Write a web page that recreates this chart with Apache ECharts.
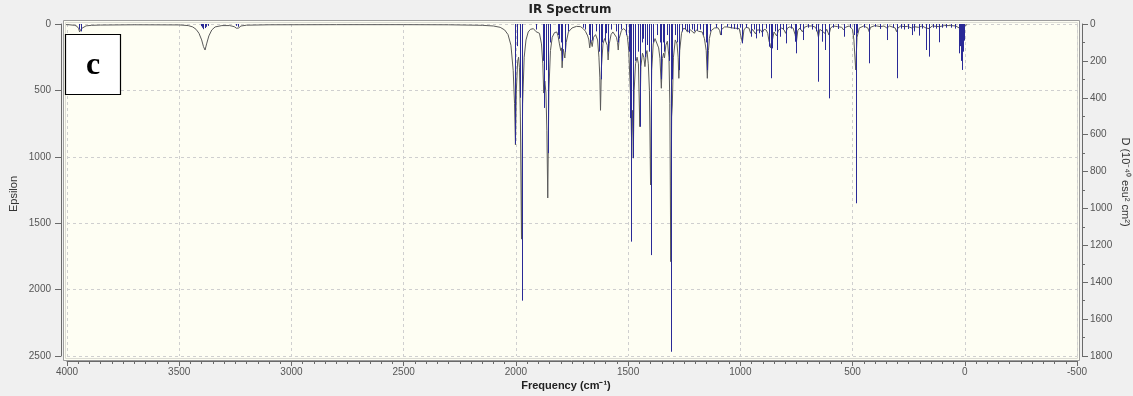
<!DOCTYPE html>
<html><head><meta charset="utf-8">
<script src="https://cdn.jsdelivr.net/npm/echarts@6/dist/echarts.min.js"></script>
<style>html,body{margin:0;padding:0;background:#f0f0f0}#chart{width:1133px;height:396px}</style>
</head><body><div id="chart"></div>
<script>
// ---- Data ----
const chartTitle = 'IR Spectrum';
const xName = 'Frequency (cm\u207B\u00B9)';
const yLeftName = 'Epsilon';
const yRightName = 'D (10\u207B\u2074\u2070 esu\u00B2 cm\u00B2)';
const panelLabel = 'c';

// Broadened spectrum (frequency cm-1, epsilon)
const curveHigh = [[4010,4],[3990,6],[3965,10],[3955,18],[3948,35],[3944,60],[3942,72],[3940,55],[3936,35],[3928,20],[3915,14],[3890,10],[3850,8],[3700,6],[3500,7],[3460,12],[3440,22],[3425,40],[3412,70],[3400,120],[3392,170],[3385,196],[3378,150],[3368,90],[3355,45],[3340,22],[3310,12],[3275,12],[3255,20],[3245,32],[3240,45],[3235,30],[3225,15],[3200,9],[3100,6],[2800,5],[2500,5],[2300,6]];
const curveMid = [[2150,10],[2100,15],[2070,25],[2050,45],[2035,80],[2022,160],[2012,350],[2006,600],[2002,910],[1998,500],[1992,280],[1988,250],[1984,330],[1980,700],[1975,1620],[1970,600],[1963,250],[1955,120],[1945,60],[1935,40],[1922,35],[1914,50],[1910,58],[1904,45],[1895,70],[1886,150],[1880,300],[1876,520],[1871,430],[1866,520],[1862,800],[1858,1310],[1853,500],[1846,200],[1838,100],[1828,65],[1818,60],[1812,90],[1806,150],[1800,200],[1797,180],[1794,330],[1789,190],[1782,256],[1776,140],[1766,60],[1750,30],[1730,18],[1712,20],[1700,35],[1690,55],[1680,90],[1675,120],[1671,180],[1666,120],[1660,170],[1654,100],[1645,80],[1636,120],[1630,250],[1626,400],[1623,650],[1619,330],[1612,150],[1605,110],[1598,120],[1593,160],[1589,271],[1584,150],[1576,80],[1568,60],[1560,70],[1552,100],[1547,140],[1544,196],[1540,110],[1530,50],[1520,35],[1510,50],[1503,100],[1497,200],[1492,420],[1488,600],[1485,848],[1481,650],[1477,1010],[1473,500],[1467,300],[1460,250],[1454,300],[1448,773],[1443,320],[1436,220],[1430,250],[1425,321],[1420,230],[1416,200],[1410,300],[1405,500],[1400,1212],[1395,350],[1388,150],[1380,110],[1372,120],[1364,180],[1358,260],[1352,484],[1347,260],[1342,220],[1338,256],[1332,160],[1325,130],[1318,250],[1314,600],[1310,1790],[1306,700],[1303,610],[1298,250],[1290,120],[1282,150],[1277,250],[1274,409],[1270,200],[1262,70],[1255,35],[1245,35],[1236,60],[1230,70],[1222,45],[1214,55],[1205,70],[1196,45],[1186,55],[1178,50],[1170,60],[1160,110],[1152,200],[1147,409],[1142,200]];
const curveLow = [[1138,110],[1130,50],[1115,30],[1100,28],[1092,50],[1088,83],[1083,40],[1070,22],[1060,22],[1050,25],[1043,35],[1036,30],[1028,40],[1020,32],[1013,45],[1005,35],[998,50],[991,140],[984,45],[975,25],[962,30],[954,70],[946,40],[940,45],[932,75],[925,45],[917,55],[910,45],[902,65],[894,40],[885,45],[878,70],[872,130],[868,150],[865,180],[861,140],[857,120],[850,60],[845,55],[838,90],[830,45],[823,55],[815,30],[805,45],[798,70],[790,30],[780,22],[765,30],[756,80],[750,133],[744,50],[735,30],[728,45],[723,60],[715,25],[700,15],[680,15],[665,25],[658,50],[652,100],[646,40],[638,40],[634,55],[628,45],[624,70],[615,40],[610,55],[605,83],[598,30],[585,15],[567,20],[548,25],[540,45],[532,25],[515,15],[500,40],[494,120],[486,346],[480,100],[470,30],[450,15],[432,30],[426,58],[420,25],[400,12],[377,20],[360,15],[347,30],[335,15],[310,30],[304,58],[298,30],[285,15],[270,20],[255,18],[236,30],[225,20],[206,25],[190,15],[173,30],[166,25],[159,35],[145,15],[114,20],[90,12],[62,12],[40,15],[25,30],[17,45],[12,40],[5,20],[-5,8],[-10,5]];

// Stick intensities (frequency cm-1, D in 1e-40 esu^2 cm^2)
const sticksHigh = [[3946,30],[3938,40],[3405,12],[3398,20],[3392,28],[3387,22],[3380,15],[3372,10],[3245,10],[3238,15]];
const sticksMid = [[2002,650],[1995,120],[1980,400],[1975,1500],[1910,30],[1880,200],[1876,455],[1866,250],[1858,700],[1850,100],[1812,60],[1806,80],[1800,100],[1794,200],[1782,150],[1770,40],[1700,20],[1690,30],[1676,60],[1671,100],[1660,90],[1645,40],[1630,150],[1623,300],[1616,100],[1605,90],[1597,50],[1589,150],[1575,30],[1556,40],[1544,100],[1530,30],[1508,60],[1498,150],[1492,510],[1485,1180],[1477,727],[1468,200],[1455,150],[1448,557],[1440,100],[1432,80],[1425,180],[1418,114],[1408,150],[1400,1253],[1390,100],[1372,60],[1360,100],[1352,300],[1345,100],[1338,150],[1328,60],[1318,200],[1310,1777],[1303,300],[1290,60],[1280,100],[1274,250],[1262,40],[1248,30],[1236,40],[1228,50],[1215,30],[1205,40],[1192,35],[1180,30],[1165,60],[1155,100],[1147,250]];
const sticksLow = [[1135,40],[1110,20],[1088,60],[1060,15],[1043,23],[1028,27],[1013,30],[1000,20],[991,105],[975,20],[954,69],[940,30],[932,78],[917,50],[902,69],[885,25],[872,123],[865,294],[857,132],[845,40],[838,141],[823,69],[810,30],[798,105],[775,25],[756,96],[750,159],[735,30],[723,87],[700,20],[680,30],[665,40],[652,313],[634,96],[624,141],[605,403],[585,20],[567,27],[540,69],[511,20],[495,60],[486,972],[478,50],[450,20],[426,213],[400,15],[377,27],[347,87],[320,20],[304,294],[285,25],[270,30],[255,27],[236,60],[225,40],[206,63],[190,25],[173,141],[159,177],[140,20],[130,25],[114,99],[100,20],[84,20],[62,20],[45,25],[25,159],[21,120],[17,200],[14,249],[8,150],[4,90]];

const xMin = -500, xMax = 4000, xStep = 500;
const epsMax = 2500, epsStep = 500;
const dMax = 1800, dStep = 200;

// ---- Chart ----
const curveData = curveHigh.concat(curveMid, curveLow);
const stickData = sticksHigh.concat(sticksMid, sticksLow);

const axisColor = '#6a6a6a';
const plainNum = function (v) { return String(v); };
const labelStyle = { color: '#555', fontSize: 10, fontFamily: '"Liberation Sans", Arial, sans-serif', formatter: plainNum };
const gridLine = { show: true, lineStyle: { color: '#cfcfcf', type: [3, 3], width: 1 } };

const chart = echarts.init(document.getElementById('chart'), null, { renderer: 'canvas' });
chart.setOption({
  animation: false,
  backgroundColor: '#f0f0f0',
  grid: { left: 67, right: 56, top: 24, bottom: 40, containLabel: false, outerBoundsMode: 'none' },
  xAxis: {
    type: 'value', min: xMin, max: xMax, interval: xStep, inverse: true, offset: 5,
    axisLine: { show: true, onZero: false, lineStyle: { color: axisColor } },
    axisTick: { show: true, length: 5, lineStyle: { color: axisColor } },
    minorTick: { show: true, splitNumber: 10, length: 3, lineStyle: { color: axisColor } },
    axisLabel: Object.assign({ margin: 6 }, labelStyle),
    splitLine: gridLine, minorSplitLine: { show: false }
  },
  yAxis: [{
    type: 'value', position: 'left', min: 0, max: epsMax, interval: epsStep, inverse: true, offset: 6,
    axisLine: { show: true, onZero: false, lineStyle: { color: axisColor } },
    axisTick: { show: true, length: 6, lineStyle: { color: axisColor } },
    axisLabel: Object.assign({ margin: 10 }, labelStyle),
    splitLine: gridLine
  }, {
    type: 'value', position: 'right', min: 0, max: dMax, interval: dStep, inverse: true, offset: 5,
    axisLine: { show: true, onZero: false, lineStyle: { color: axisColor } },
    axisTick: { show: true, length: 6, lineStyle: { color: axisColor } },
    minorTick: { show: true, splitNumber: 2, length: 3, lineStyle: { color: axisColor } },
    axisLabel: Object.assign({ margin: 8 }, labelStyle),
    splitLine: { show: false }
  }],
  graphic: [
    { type: 'rect', z: -10, silent: true, shape: { x: 63.5, y: 20.5, width: 1016, height: 340 },
      style: { fill: '#fefef3', stroke: '#9c9c9c', lineWidth: 1 } },
    { type: 'rect', z: -9, silent: true, shape: { x: 65.5, y: 22.5, width: 1012, height: 336 },
      style: { fill: 'none', stroke: '#dcdcd4', lineWidth: 1 } },
    { type: 'text', z: 10, x: 570, y: 10, style: { text: chartTitle, font: 'bold 12px "DejaVu Sans", sans-serif', fill: '#222', align: 'center', verticalAlign: 'middle' } },
    { type: 'text', z: 10, x: 566, y: 386, style: { text: xName, font: 'bold 11px "Liberation Sans", Arial, sans-serif', fill: '#222', align: 'center', verticalAlign: 'middle' } },
    { type: 'text', z: 10, x: 13.5, y: 194, rotation: Math.PI / 2, style: { text: yLeftName, font: '11px "Liberation Sans", Arial, sans-serif', fill: '#333', align: 'center', verticalAlign: 'middle' } },
    { type: 'text', z: 10, x: 1125, y: 182, rotation: -Math.PI / 2, style: { text: yRightName, font: '11px "Liberation Sans", Arial, sans-serif', fill: '#333', align: 'center', verticalAlign: 'middle' } },
    { type: 'rect', z: 20, shape: { x: 65.5, y: 34.5, width: 55, height: 60 }, style: { fill: '#fff', stroke: '#000', lineWidth: 1.2 } },
    { type: 'text', z: 21, x: 93, y: 66, style: { text: panelLabel, font: 'bold 32px "Liberation Serif", "DejaVu Serif", serif', fill: '#000', align: 'center', verticalAlign: 'middle' } }
  ],
  series: [{
    type: 'line', xAxisIndex: 0, yAxisIndex: 0, data: curveData, showSymbol: false, symbol: 'none',
    silent: true, z: 3, sampling: null, lineStyle: { color: '#5a5a5a', width: 1 }
  }, {
    type: 'custom', xAxisIndex: 0, yAxisIndex: 1, data: stickData, silent: true, z: 4,
    renderItem: function (params, api) {
      const f = api.value(0), d = api.value(1);
      const p0 = api.coord([f, 0]);
      const p1 = api.coord([f, d]);
      const x = Math.round(p0[0]) + 0.5;
      return { type: 'line', shape: { x1: x, y1: p0[1], x2: x, y2: p1[1] }, style: { stroke: '#2a2a96', lineWidth: 1 } };
    }
  }]
});
</script></body></html>
